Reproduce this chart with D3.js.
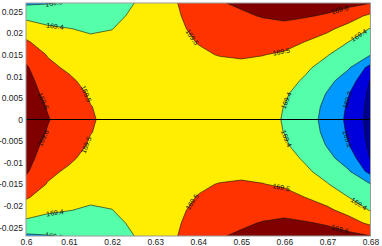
<!DOCTYPE html>
<html>
<head>
<meta charset="utf-8">
<script src="https://cdn.jsdelivr.net/npm/d3@7"></script>
<style>
body { margin: 0; background: #fff; }
text { font-family: "Liberation Sans", Arial, sans-serif; }
</style>
</head>
<body>
<div id="chart"></div>
<script>
// grid sample positions
var xValues = [0.600, 0.605, 0.610, 0.615, 0.620, 0.625, 0.630, 0.635, 0.640,
               0.645, 0.650, 0.655, 0.660, 0.665, 0.670, 0.675, 0.680];
var yValues = [0.027, 0.024, 0.021, 0.018, 0.015, 0.012, 0.009, 0.006, 0.003, 0,
               -0.003, -0.006, -0.009, -0.012, -0.015, -0.018, -0.021, -0.024, -0.027];

// z values, one row per y (top to bottom)
var zRows = [
  [169.285,169.295,169.312,169.334,169.360,169.399,169.452,169.498,169.543,169.594,169.613,169.635,169.650,169.645,169.640,169.630,169.602],
  [169.377,169.362,169.364,169.363,169.380,169.412,169.455,169.492,169.530,169.573,169.587,169.605,169.617,169.607,169.590,169.540,169.480],
  [169.449,169.415,169.402,169.391,169.399,169.424,169.458,169.486,169.517,169.550,169.561,169.568,169.574,169.551,169.517,169.466,169.394],
  [169.511,169.455,169.430,169.414,169.413,169.435,169.460,169.480,169.503,169.527,169.534,169.535,169.530,169.498,169.460,169.399,169.364],
  [169.567,169.495,169.458,169.433,169.430,169.445,169.462,169.475,169.490,169.503,169.509,169.502,169.488,169.455,169.404,169.352,169.303],
  [169.613,169.521,169.486,169.452,169.447,169.455,169.464,169.470,169.476,169.478,169.481,169.476,169.462,169.413,169.366,169.306,169.165],
  [169.638,169.544,169.515,169.471,169.462,169.463,169.466,169.466,169.464,169.460,169.458,169.449,169.430,169.388,169.325,169.255,169.093],
  [169.656,169.568,169.538,169.490,169.472,169.470,169.467,169.463,169.456,169.448,169.442,169.430,169.410,169.365,169.294,169.202,169.077],
  [169.666,169.594,169.552,169.502,169.478,169.474,169.468,169.461,169.451,169.442,169.433,169.419,169.399,169.345,169.278,169.185,169.067],
  [169.670,169.606,169.556,169.507,169.480,169.475,169.468,169.460,169.450,169.440,169.430,169.415,169.397,169.338,169.271,169.176,169.063],
  [169.666,169.594,169.552,169.502,169.478,169.474,169.468,169.461,169.451,169.442,169.433,169.419,169.399,169.345,169.278,169.185,169.067],
  [169.656,169.568,169.538,169.490,169.472,169.470,169.467,169.463,169.456,169.448,169.442,169.430,169.410,169.365,169.294,169.202,169.077],
  [169.638,169.544,169.515,169.471,169.462,169.463,169.466,169.466,169.464,169.460,169.458,169.449,169.430,169.388,169.325,169.255,169.093],
  [169.613,169.521,169.486,169.452,169.447,169.455,169.464,169.470,169.476,169.478,169.481,169.476,169.462,169.413,169.366,169.306,169.165],
  [169.567,169.495,169.458,169.433,169.430,169.445,169.462,169.475,169.490,169.503,169.509,169.502,169.488,169.455,169.404,169.352,169.303],
  [169.511,169.455,169.430,169.414,169.413,169.435,169.460,169.480,169.503,169.527,169.534,169.535,169.530,169.498,169.460,169.399,169.364],
  [169.449,169.415,169.402,169.391,169.399,169.424,169.458,169.486,169.517,169.550,169.561,169.568,169.574,169.551,169.517,169.466,169.394],
  [169.377,169.362,169.364,169.363,169.380,169.412,169.455,169.492,169.530,169.573,169.587,169.605,169.617,169.607,169.590,169.540,169.480],
  [169.285,169.295,169.312,169.334,169.360,169.399,169.452,169.498,169.543,169.594,169.613,169.635,169.650,169.645,169.640,169.630,169.602]
];

var levels = [169.1, 169.2, 169.3, 169.4, 169.5, 169.6];
// band colours, lowest band first
var bandColors = ['#00008f', '#0000dd', '#0099ff', '#55ffaa', '#ffee00', '#ff3300', '#800000'];

var xTicks = [0.6, 0.61, 0.62, 0.63, 0.64, 0.65, 0.66, 0.67, 0.68];
var yTicks = [0.025, 0.02, 0.015, 0.01, 0.005, 0, -0.005, -0.01, -0.015, -0.02, -0.025];

// contour labels: level and rough spot, snapped onto the line
var labelLevels = [169.3, 169.3, 169.4, 169.4, 169.5, 169.5, 169.5, 169.5, 169.6, 169.6,
                   169.4, 169.4, 169.4, 169.4, 169.2, 169.2, 169.6, 169.6, 169.5, 169.5];
var labelX = [0.6067, 0.6067, 0.6067, 0.6067, 0.6386, 0.6386, 0.6591, 0.6591, 0.673, 0.673,
              0.677, 0.677, 0.6602, 0.6602, 0.6747, 0.6747, 0.6044, 0.6044, 0.6144, 0.6144];
var labelY = [0.0268, -0.0268, 0.0215, -0.0215, 0.0191, -0.0191, 0.0166, -0.0166, 0.025, -0.025,
              0.020, -0.020, 0.0045, -0.0045, 0.0045, -0.0045, 0.0045, -0.0045, 0.0061, -0.0061];

var width = 382, height = 246;
var x = d3.scaleLinear().domain([0.6, 0.68]).range([26, 370.5]);
var y = d3.scaleLinear().domain([-0.027, 0.027]).range([236, 3]);

var nx = xValues.length, ny = yValues.length;
// contour grid coords -> pixels (sample i sits at i + 0.5)
var gx = d3.scaleLinear().domain([0.5, nx - 0.5]).range([x(xValues[0]), x(xValues[nx - 1])]);
var gy = d3.scaleLinear().domain([0.5, ny - 0.5]).range([y(yValues[0]), y(yValues[ny - 1])]);

var values = d3.merge(zRows);
var contours = d3.contours().size([nx, ny]).thresholds(levels)(values);

var path = d3.geoPath(d3.geoTransform({
    point: function(px, py) { this.stream.point(gx(px), gy(py)); }
}));

var svg = d3.select("#chart").append("svg")
    .attr("width", width)
    .attr("height", height);

svg.append("clipPath").attr("id", "plot-clip")
  .append("rect")
    .attr("x", x(0.6)).attr("y", y(0.027))
    .attr("width", x(0.68) - x(0.6))
    .attr("height", y(-0.027) - y(0.027));

var plot = svg.append("g").attr("clip-path", "url(#plot-clip)");

plot.append("rect")
    .attr("x", x(0.6)).attr("y", y(0.027))
    .attr("width", x(0.68) - x(0.6))
    .attr("height", y(-0.027) - y(0.027))
    .attr("fill", bandColors[0]);

plot.selectAll(".band")
    .data(contours)
    .enter().append("path")
    .attr("class", "band")
    .attr("d", path)
    .attr("fill", function(d, i) { return bandColors[i + 1]; })
    .attr("stroke", "#111")
    .attr("stroke-width", 0.6);

// zero line
plot.append("line")
    .attr("x1", x(0.6)).attr("x2", x(0.68))
    .attr("y1", y(0)).attr("y2", y(0))
    .attr("stroke", "#000")
    .attr("stroke-width", 1);

function inside(p) {
    return p[0] >= x(0.6) - 0.5 && p[0] <= x(0.68) + 0.5 && p[1] >= y(0.027) - 0.5 && p[1] <= y(-0.027) + 0.5;
}

function snapLabel(level, lx, ly) {
    var c = d3.contours().size([nx, ny]).thresholds([level])(values)[0];
    var px = x(lx), py = y(ly), best = null;
    c.coordinates.forEach(function(poly) {
        poly.forEach(function(ring) {
            for (var i = 1; i < ring.length; i++) {
                var a = [gx(ring[i - 1][0]), gy(ring[i - 1][1])];
                var b = [gx(ring[i][0]), gy(ring[i][1])];
                if (!inside(a) || !inside(b)) continue;
                var dx = b[0] - a[0], dy = b[1] - a[1], L2 = dx * dx + dy * dy;
                if (!L2) continue;
                var t = Math.max(0, Math.min(1, ((px - a[0]) * dx + (py - a[1]) * dy) / L2));
                var qx = a[0] + t * dx, qy = a[1] + t * dy;
                var d = (qx - px) * (qx - px) + (qy - py) * (qy - py);
                if (!best || d < best.d) {
                    best = {d: d, x: qx, y: qy, ang: Math.atan2(dy, dx) * 180 / Math.PI};
                }
            }
        });
    });
    if (best) {
        if (best.ang > 90) best.ang -= 180;
        if (best.ang <= -90) best.ang += 180;
    }
    return best;
}

for (var i = 0; i < labelLevels.length; i++) {
    var s = snapLabel(labelLevels[i], labelX[i], labelY[i]);
    if (!s) continue;
    plot.append("text")
        .attr("transform", "translate(" + s.x + "," + s.y + ") rotate(" + s.ang + ")")
        .attr("text-anchor", "middle")
        .attr("dy", "0.35em")
        .attr("font-size", "7px")
        .attr("fill", "#111")
        .text(labelLevels[i].toFixed(1));
}

// box
svg.append("rect")
    .attr("x", x(0.6)).attr("y", y(0.027))
    .attr("width", x(0.68) - x(0.6))
    .attr("height", y(-0.027) - y(0.027))
    .attr("fill", "none")
    .attr("stroke", "#999")
    .attr("stroke-width", 1);

// tick labels
svg.append("g").attr("transform", "translate(0," + (y(-0.027) + 1) + ")")
    .call(d3.axisBottom(x).tickValues(xTicks).tickSize(0).tickPadding(2)
        .tickFormat(function(d) { return String(+d.toFixed(3)); }))
    .call(function(g) { g.select(".domain").remove(); })
    .selectAll("text")
    .attr("font-size", "8.5px")
    .attr("fill", "#222");

svg.append("g").attr("transform", "translate(" + (x(0.6) - 1) + ",0)")
    .call(d3.axisLeft(y).tickValues(yTicks).tickSize(0).tickPadding(2)
        .tickFormat(function(d) { return String(+d.toFixed(3)); }))
    .call(function(g) { g.select(".domain").remove(); })
    .selectAll("text")
    .attr("font-size", "8.5px")
    .attr("fill", "#222");
</script>
</body>
</html>
